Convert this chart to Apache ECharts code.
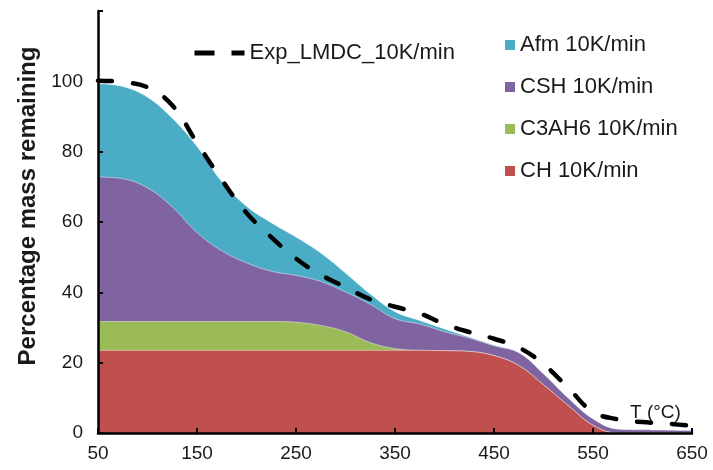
<!DOCTYPE html>
<html>
<head>
<meta charset="utf-8">
<script src="https://cdn.jsdelivr.net/npm/echarts@6/dist/echarts.min.js"></script>
<style>
html,body{margin:0;padding:0;background:#fff;}
#chart{width:713px;height:470px;}
</style>
</head>
<body>
<div id="chart"></div>
<script>
// Temperature (°C)
const temps = [50,75,100,125,150,175,200,225,250,275,300,325,350,375,400,425,450,475,500,525,550,575,600,625,650];
// Component contributions (stacked bottom to top, % mass)
const ch    = [23.5,23.5,23.5,23.5,23.5,23.5,23.5,23.5,23.5,23.5,23.5,23.5,23.5,23.5,23.4,23.2,22,19.2,13.7,7.8,2.2,0,0,0,0];
const c3ah6 = [8.2,8.2,8.2,8.2,8.2,8.2,8.2,8.2,8,7.1,5.3,2.2,0.5,0,0,0,0,0,0,0,0,0,0,0,0];
const csh   = [41.1,40.6,38,32.6,25.3,20.1,16.7,14.3,13.3,12.5,11.3,10.9,8.5,7.5,5.4,3.8,2.8,3.6,3.1,2.1,1.8,1.1,0.9,0.8,0.7];
const afm   = [26.5,26.2,25.8,25.2,24.5,19.7,16.1,13.8,10.9,8.1,5.4,2.9,2,1,0.8,0.3,0.2,0,0,0,0,0,0,0,0];
// Experimental curve
const expLmdc = [100.2,99.8,98.3,93.2,82.5,72,62.6,55.7,49.6,45,41.5,38,35.9,34,31,28.7,26.8,24.3,19.6,12.8,6,3.9,3.1,2.7,2];

const xTicks = [50,150,250,350,450,550,650];
const yTicks = [0,20,40,60,80,100];

const names = {
  exp: 'Exp_LMDC_10K/min',
  afm: 'Afm 10K/min',
  csh: 'CSH 10K/min',
  c3ah6: 'C3AH6 10K/min',
  ch: 'CH 10K/min'
};

const FONT = '"Liberation Sans", Arial, sans-serif';

// cumulative tops of the stack (built from the component arrays)
const layers = [ch, c3ah6, csh, afm];
const cum = [];
layers.forEach((arr, k) => {
  cum.push(arr.map((v, i) => +(v + (k ? cum[k - 1][i] : 0)).toFixed(3)));
});
const pair = arr => temps.map((t, i) => [t, arr[i]]);

function areaSeries(name, arr, color, z) {
  return {
    name: name,
    type: 'line',
    data: pair(arr),
    smooth: 0.4,
    showSymbol: false,
    symbol: 'none',
    z: z,
    lineStyle: { width: 1, color: 'rgba(255,255,255,0.45)' },
    itemStyle: { color: color },
    areaStyle: { color: color, opacity: 1, origin: 'start' },
    emphasis: { disabled: true }
  };
}

const chart = echarts.init(document.getElementById('chart'), null, { renderer: 'canvas' });
chart.setOption({
  animation: false,
  backgroundColor: '#fff',
  textStyle: { fontFamily: FONT },
  grid: { left: 98, right: 21, top: 11, bottom: 37 },
  xAxis: {
    type: 'value',
    min: 50, max: 650, interval: 100,
    axisLine: { lineStyle: { color: '#000', width: 2.5 } },
    axisTick: { inside: true, length: 5, lineStyle: { color: '#000', width: 2 } },
    axisLabel: {
      fontSize: 19, color: '#1a1a1a', margin: 11, fontFamily: FONT,
      formatter: v => (xTicks.indexOf(v) >= 0 ? String(v) : '')
    },
    splitLine: { show: false },
    z: 20
  },
  yAxis: {
    type: 'value',
    min: 0, max: 120, interval: 20,
    axisLine: { show: true, lineStyle: { color: '#000', width: 2.5 } },
    axisTick: { show: true, inside: true, length: 5, lineStyle: { color: '#000', width: 2 } },
    axisLabel: {
      fontSize: 19, color: '#1a1a1a', margin: 15, fontFamily: FONT,
      formatter: v => (yTicks.indexOf(v) >= 0 ? String(v) : '')
    },
    splitLine: { show: false },
    name: 'Percentage mass remaining',
    nameLocation: 'middle',
    nameGap: 56,
    nameTextStyle: { fontSize: 24, fontWeight: 'bold', color: '#1a1a1a', fontFamily: FONT, padding: [0, 0, 0, 32] },
    z: 20
  },
  legend: [
    {
      data: [names.exp],
      left: 192, top: 42, padding: 0,
      itemWidth: 50, itemHeight: 14,
      selectedMode: false,
      itemStyle: { color: 'rgba(0,0,0,0)', borderColor: 'rgba(0,0,0,0)', borderWidth: 0 },
      lineStyle: { type: [20, 17], cap: 'butt', width: 5, color: '#000' },
      textStyle: { fontSize: 22, color: '#1a1a1a', fontFamily: FONT }
    },
    {
      data: [names.afm, names.csh, names.c3ah6, names.ch],
      orient: 'vertical',
      left: 505, top: 34, padding: 0,
      icon: 'rect', itemWidth: 10, itemHeight: 10, itemGap: 20,
      selectedMode: false,
      textStyle: { fontSize: 22, lineHeight: 22, color: '#1a1a1a', fontFamily: FONT }
    }
  ],
  graphic: [
    {
      type: 'text', left: 630, top: 403, z: 100,
      style: { text: 'T (°C)', fontSize: 19, fill: '#1a1a1a', font: '19px ' + FONT }
    }
  ],
  series: [
    areaSeries(names.afm, cum[3], '#4bacc6', 1),
    areaSeries(names.csh, cum[2], '#8064a2', 2),
    areaSeries(names.c3ah6, cum[1], '#9bbb59', 3),
    areaSeries(names.ch, cum[0], '#c0504d', 4),
    {
      name: names.exp,
      type: 'line',
      data: pair(expLmdc),
      smooth: 0.4,
      showSymbol: false,
      symbol: 'none',
      z: 10,
      itemStyle: { color: '#000' },
      lineStyle: { color: '#000', width: 4.5, type: [14, 21], cap: 'round' },
      emphasis: { disabled: true }
    }
  ]
});
</script>
</body>
</html>
